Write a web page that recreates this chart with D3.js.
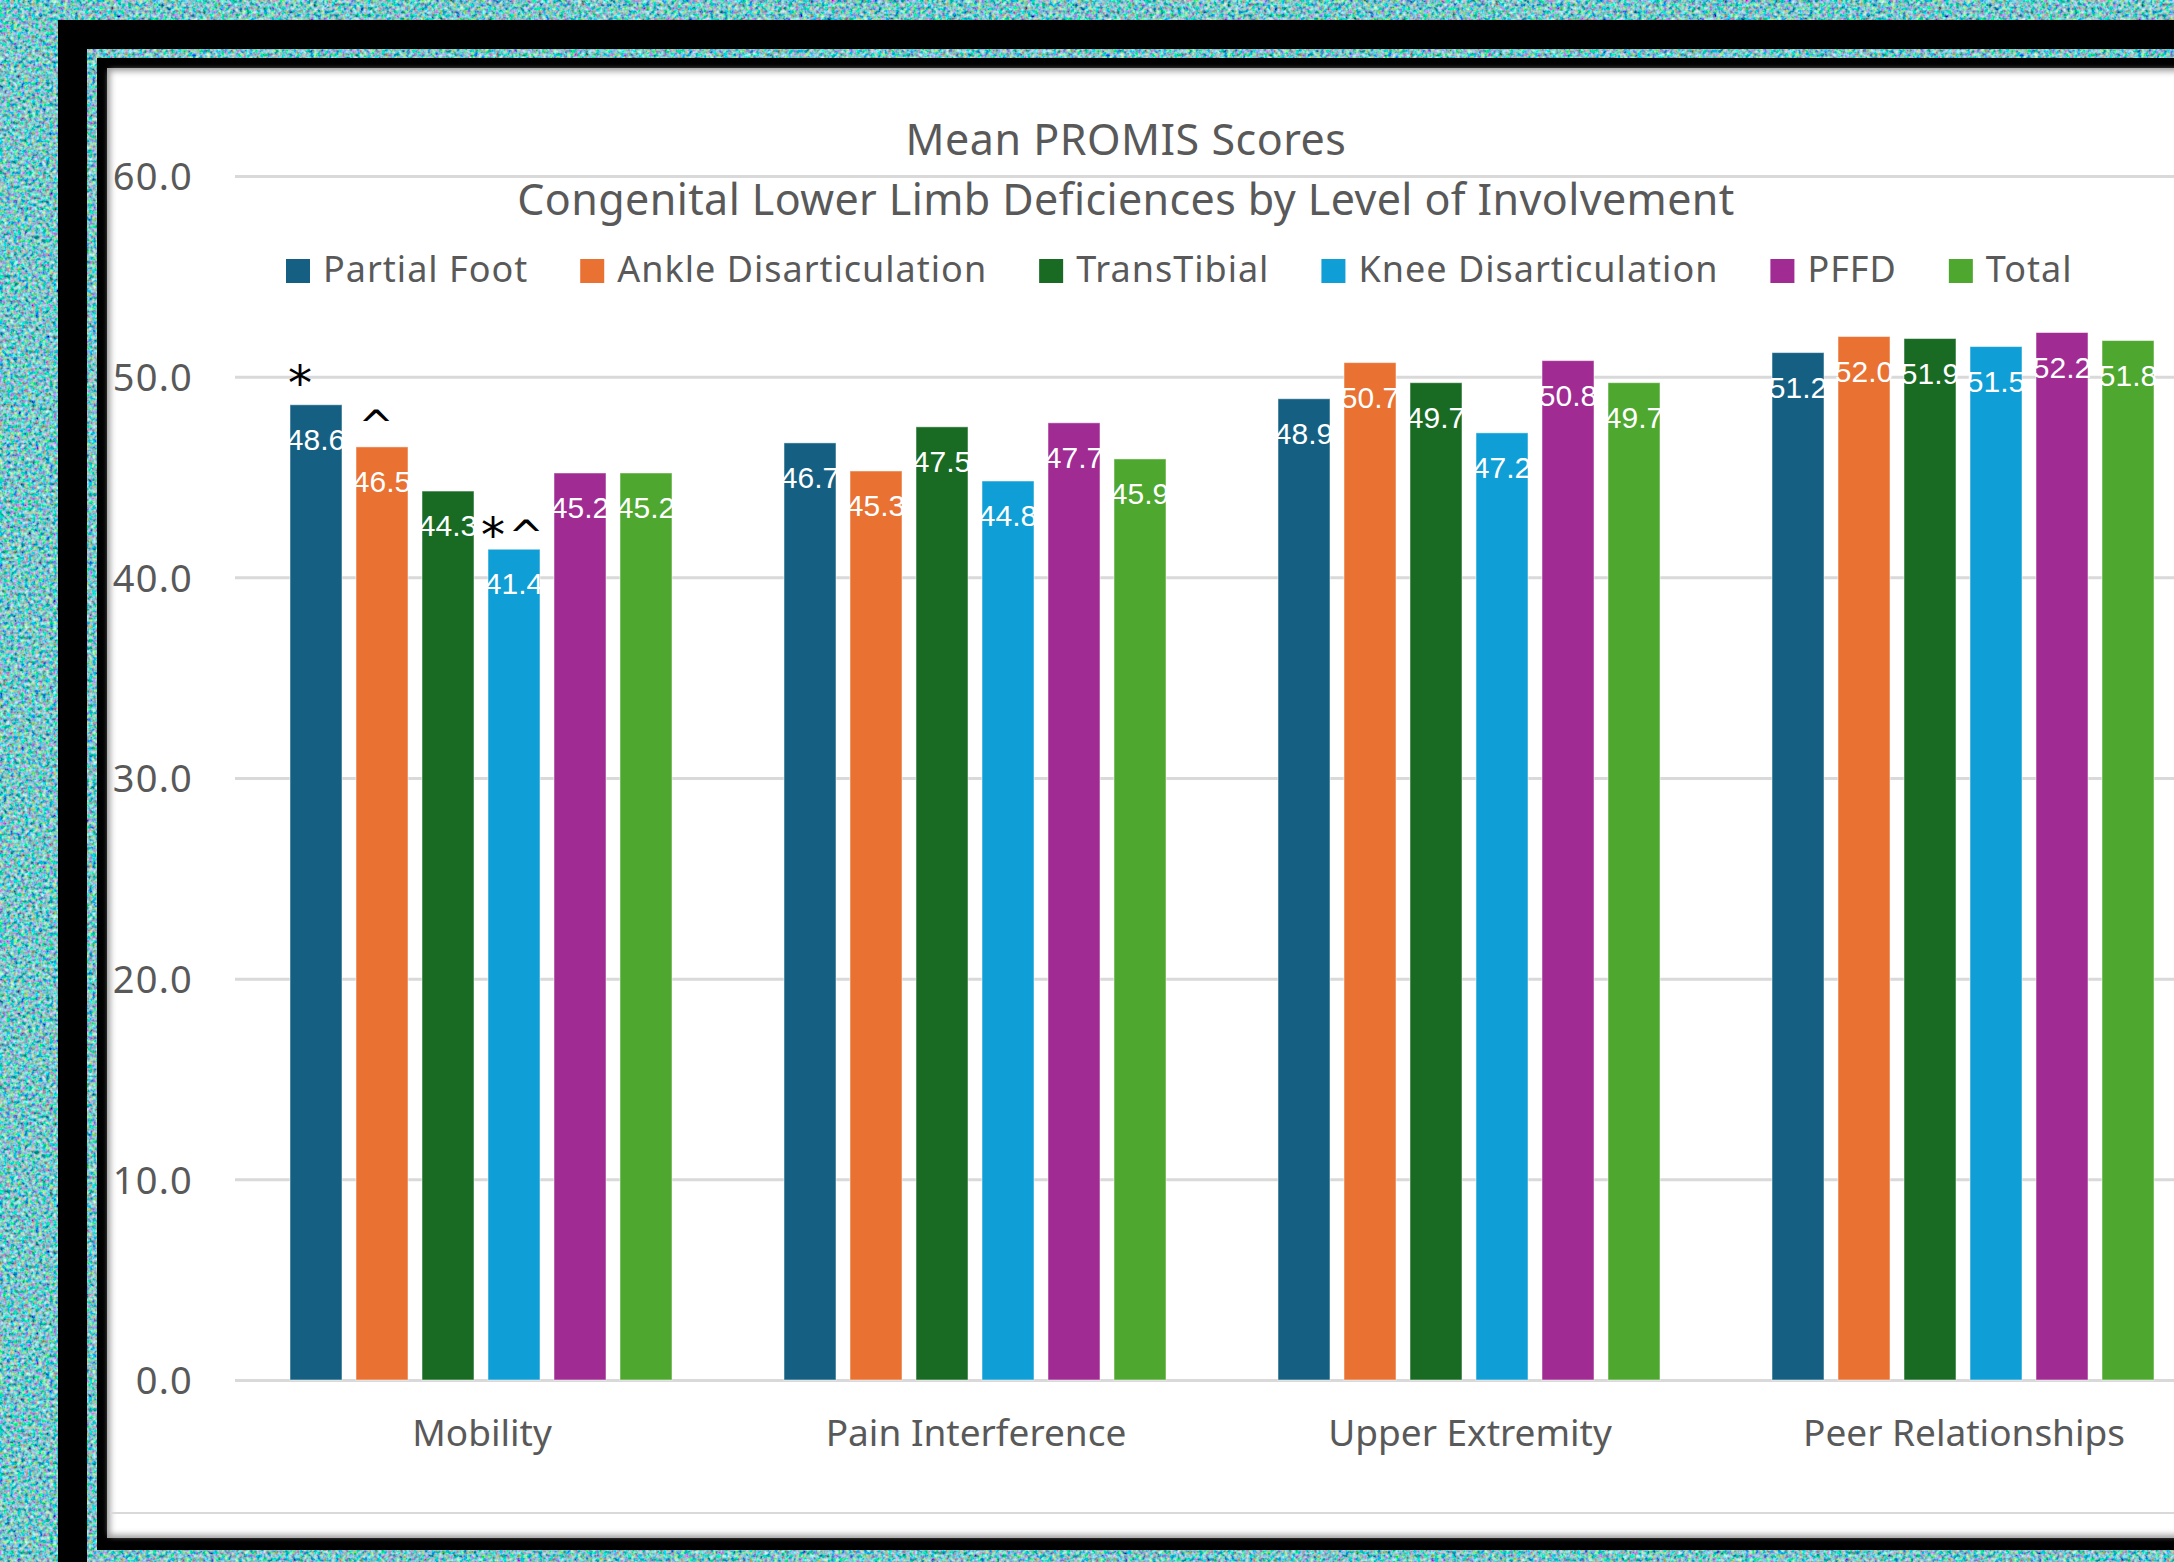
<!DOCTYPE html>
<html>
<head>
<meta charset="utf-8">
<script src="https://cdn.jsdelivr.net/npm/d3@7"></script>
<style>
  html, body { margin: 0; padding: 0; background: #3f9c98; }
  svg { display: block; }
</style>
</head>
<body>
<svg id="chart" width="2174" height="1562"></svg>
<script>
// data
var categories = ['Mobility', 'Pain Interference', 'Upper Extremity', 'Peer Relationships'];
var seriesNames = ['Partial Foot', 'Ankle Disarticulation', 'TransTibial', 'Knee Disarticulation', 'PFFD', 'Total'];
var seriesColors = ['#156082', '#E97132', '#196B24', '#0F9ED5', '#A02B93', '#4EA72E'];

var partialFoot = [48.6, 46.7, 48.9, 51.2];
var ankleDisart = [46.5, 45.3, 50.7, 52.0];
var transTibial = [44.3, 47.5, 49.7, 51.9];
var kneeDisart  = [41.4, 44.8, 47.2, 51.5];
var pffd        = [45.2, 47.7, 50.8, 52.2];
var total       = [45.2, 45.9, 49.7, 51.8];

var yTicks = [0, 10, 20, 30, 40, 50, 60];

// tanda signifikansi di atas batang
var markers = [
  {cat: 'Mobility', series: 'Partial Foot', sym: '*', dx: -16, dy: -5},
  {cat: 'Mobility', series: 'Ankle Disarticulation', sym: '^', dx: -6, dy: -6},
  {cat: 'Mobility', series: 'Knee Disarticulation', sym: '*', dx: -21, dy: 3},
  {cat: 'Mobility', series: 'Knee Disarticulation', sym: '^', dx: 12, dy: 2}
];

var seriesValues = [partialFoot, ankleDisart, transTibial, kneeDisart, pffd, total];

var svg = d3.select('#chart');
var W = 2174, H = 1562;
var defs = svg.append('defs');

// tekstur noise untuk latar
var noise = defs.append('filter').attr('id', 'noise')
  .attr('x', 0).attr('y', 0).attr('width', '100%').attr('height', '100%');
noise.append('feTurbulence')
  .attr('type', 'fractalNoise')
  .attr('baseFrequency', 0.28)
  .attr('numOctaves', 2)
  .attr('seed', 4)
  .attr('stitchTiles', 'stitch');
noise.append('feColorMatrix')
  .attr('type', 'matrix')
  .attr('values', '1.5 0 0 0 -0.54  0 1.5 0 0 -0.19  0 0 1.5 0 -0.17  0 0 0 0 1');

var shadow = defs.append('filter').attr('id', 'inset')
  .attr('x', '-5%').attr('y', '-5%').attr('width', '110%').attr('height', '110%');
shadow.append('feGaussianBlur').attr('stdDeviation', 3);

svg.append('rect').attr('width', W).attr('height', H).attr('filter', 'url(#noise)');

// bingkai hitam dan panel putih
svg.append('rect').attr('x', 58).attr('y', 20).attr('width', W).attr('height', H).attr('fill', '#000');
svg.append('rect').attr('x', 87).attr('y', 49).attr('width', W).attr('height', H)
  .attr('filter', 'url(#noise)');
svg.append('rect').attr('x', 97).attr('y', 58).attr('width', W).attr('height', 1550 - 58).attr('fill', '#000');
svg.append('rect').attr('x', 107).attr('y', 68).attr('width', W).attr('height', 1538 - 68).attr('fill', '#9a9a9a');
svg.append('rect').attr('x', 110).attr('y', 71).attr('width', W).attr('height', 1538 - 74)
  .attr('fill', '#fff').attr('filter', 'url(#inset)');

// garis batas area chart
svg.append('line').attr('x1', 110).attr('x2', W).attr('y1', 1513).attr('y2', 1513)
  .attr('stroke', '#d9d9d9').attr('stroke-width', 2);

var margin = {left: 235, top: 176, bottom: 1380};
var step = 494;

var x0 = d3.scaleBand()
  .domain(categories)
  .range([margin.left, margin.left + step * categories.length])
  .padding(0);

var groupW = 382;
var x1 = d3.scaleBand()
  .domain(seriesNames)
  .range([(step - groupW) / 2 - 1, (step + groupW) / 2 - 1])
  .paddingInner(14 / 66)
  .paddingOuter(0);

var y = d3.scaleLinear().domain([0, 60]).range([margin.bottom, margin.top]);

// grid dan label sumbu y
var yAxis = d3.axisLeft(y).tickValues(yTicks)
  .tickSize(-(W - margin.left))
  .tickFormat(d3.format('.1f'))
  .tickPadding(42);

var gy = svg.append('g')
  .attr('transform', 'translate(' + margin.left + ',0)')
  .call(yAxis);
gy.select('.domain').remove();
gy.selectAll('.tick line').attr('stroke', '#d9d9d9').attr('stroke-width', 3);
gy.selectAll('.tick text')
  .attr('fill', '#595959')
  .attr('font-family', 'Noto Sans, sans-serif')
  .attr('font-size', 38)
  .attr('letter-spacing', 1.2)
  .attr('dy', '0.36em');

// label kategori
var xAxis = d3.axisBottom(x0).tickSize(0).tickPadding(40);
var gx = svg.append('g')
  .attr('transform', 'translate(0,' + margin.bottom + ')')
  .call(xAxis);
gx.select('.domain').remove();
gx.selectAll('.tick text')
  .attr('fill', '#595959')
  .attr('font-family', 'Noto Sans, sans-serif')
  .attr('font-size', 37);

// susun data batang
var bars = [];
categories.forEach(function(c, ci) {
  seriesNames.forEach(function(s, si) {
    bars.push({cat: c, series: s, color: seriesColors[si], value: seriesValues[si][ci]});
  });
});

var groups = svg.append('g');
groups.selectAll('.bar')
  .data(bars)
  .enter().append('rect')
  .attr('class', 'bar')
  .attr('x', function(d) { return x0(d.cat) + x1(d.series); })
  .attr('y', function(d) { return y(d.value); })
  .attr('width', x1.bandwidth())
  .attr('height', function(d) { return y(0) - y(d.value); })
  .attr('fill', function(d) { return d.color; })
  .attr('stroke', '#ffffff')
  .attr('stroke-opacity', 0.5)
  .attr('stroke-width', 1);

groups.selectAll('.lbl')
  .data(bars)
  .enter().append('text')
  .attr('class', 'lbl')
  .attr('x', function(d) { return x0(d.cat) + x1(d.series) + x1.bandwidth() / 2; })
  .attr('y', function(d) { return y(d.value) + 45; })
  .attr('text-anchor', 'middle')
  .attr('fill', '#ffffff')
  .attr('font-family', 'Liberation Sans, Arial, sans-serif')
  .attr('font-size', 30)
  .text(function(d) { return d3.format('.1f')(d.value); });

// tanda * dan ^
svg.selectAll('.mark')
  .data(markers)
  .enter().append('text')
  .attr('class', 'mark')
  .attr('x', function(d) { return x0(d.cat) + x1(d.series) + x1.bandwidth() / 2 + d.dx; })
  .attr('y', function(d) {
    var v = seriesValues[seriesNames.indexOf(d.series)][categories.indexOf(d.cat)];
    return y(v) + d.dy;
  })
  .attr('text-anchor', 'middle')
  .attr('fill', '#000')
  .attr('font-family', 'DejaVu Sans, sans-serif')
  .attr('font-size', function(d) { return d.sym === '*' ? 48 : 42; })
  .text(function(d) { return d.sym; });

// judul
svg.append('text')
  .attr('x', 1126).attr('y', 155)
  .attr('text-anchor', 'middle')
  .attr('fill', '#595959')
  .attr('font-family', 'Noto Sans, sans-serif')
  .attr('font-size', 43)
  .attr('letter-spacing', 0.5)
  .text('Mean PROMIS Scores');
svg.append('text')
  .attr('x', 1126).attr('y', 215)
  .attr('text-anchor', 'middle')
  .attr('fill', '#595959')
  .attr('font-family', 'Noto Sans, sans-serif')
  .attr('font-size', 43)
  .attr('letter-spacing', 0.4)
  .text('Congenital Lower Limb Deficiences by Level of Involvement');

// legenda
var legend = svg.append('g');
var lx = 286;
seriesNames.forEach(function(s, i) {
  legend.append('rect')
    .attr('x', lx).attr('y', 259)
    .attr('width', 24).attr('height', 24)
    .attr('fill', seriesColors[i]);
  var t = legend.append('text')
    .attr('x', lx + 37).attr('y', 282)
    .attr('fill', '#595959')
    .attr('font-family', 'Noto Sans, sans-serif')
    .attr('font-size', 36)
    .attr('letter-spacing', 1)
    .text(s);
  lx = lx + 37 + t.node().getComputedTextLength() + 52;
});
</script>
</body>
</html>
